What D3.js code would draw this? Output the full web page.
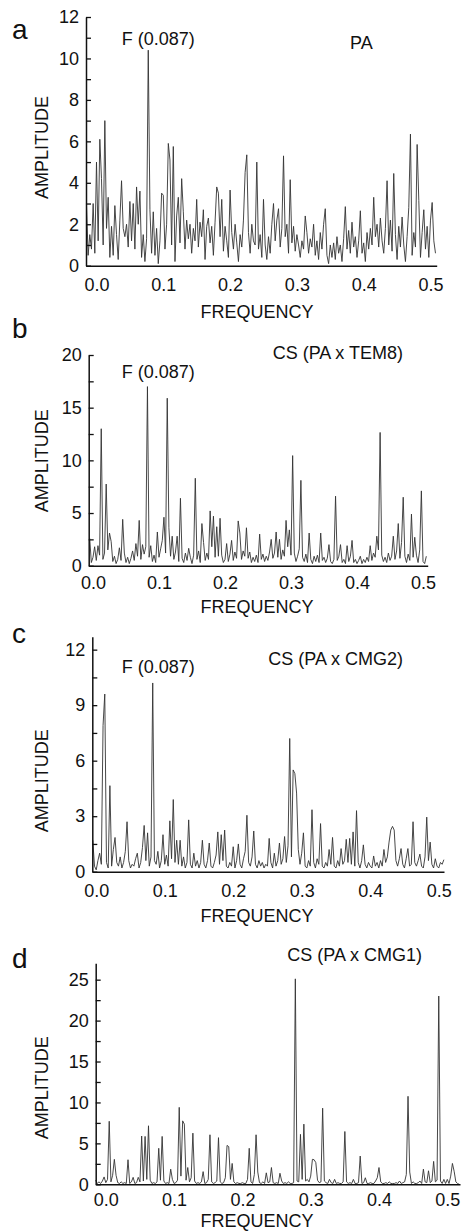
<!DOCTYPE html>
<html>
<head>
<meta charset="utf-8">
<script src="https://cdn.jsdelivr.net/npm/d3@7"></script>
<style>
body { margin: 0; background: #fff; }
svg { display: block; }
</style>
</head>
<body>
<div id="chart"></div>
<script>
'use strict';

// frequency grid of the read-off spectra
var freqStep = 0.0025;
var freqTicks = [0, 0.1, 0.2, 0.3, 0.4, 0.5];

var panelLetters = ['a', 'b', 'c', 'd'];
var seriesNames = ['PA', 'CS (PA x TEM8)', 'CS (PA x CMG2)', 'CS (PA x CMG1)'];
var peakLabel = 'F (0.087)';

var yTicksA = [0, 2, 4, 6, 8, 10, 12];
var yTicksB = [0, 5, 10, 15, 20];
var yTicksC = [0, 3, 6, 9, 12];
var yTicksD = [0, 5, 10, 15, 20, 25];

var paStart = -0.015;
var paAmp = [3.0,0.5,1.5,0.8,3.0,0.6,5.0,1.2,6.1,4.2,
1.0,7.0,1.8,3.3,0.4,1.9,0.5,2.9,1.5,0.3,
2.2,4.1,1.8,1.4,2.0,0.9,3.1,1.2,3.0,0.8,
3.8,2.0,3.6,0.4,1.5,0.2,1.3,10.4,2.7,0.6,
2.6,0.5,1.8,0.1,1.2,3.5,3.4,0.8,2.0,5.9,
5.1,1.0,5.75,0.2,2.4,3.3,1.1,4.2,2.6,0.8,
2.2,1.3,2.0,0.6,1.8,1.2,3.2,0.9,2.1,1.4,
2.7,0.3,1.9,2.3,1.1,1.9,0.5,2.1,3.8,3.5,
1.4,3.2,0.7,1.9,1.2,0.4,3.65,1.6,0.8,2.0,
1.1,0.2,1.5,0.9,2.2,4.5,5.35,1.6,0.6,2.0,
1.2,1.0,5.0,0.8,1.5,0.4,3.2,1.0,0.3,1.4,
0.6,2.0,3.0,1.2,2.2,2.75,0.9,1.8,5.3,1.4,
2.0,0.6,4.15,1.1,1.9,0.7,1.5,1.0,0.4,1.2,
0.8,2.4,1.6,0.6,1.3,0.9,2.0,0.5,1.2,0.3,
1.6,0.8,2.0,2.75,0.5,0.1,1.0,0.4,1.1,0.3,
1.4,0.6,1.0,0.2,1.3,2.85,0.8,1.7,0.6,2.1,
0.9,1.4,0.4,1.2,2.65,0.6,1.1,0.2,1.6,0.8,
1.8,1.0,3.3,1.4,2.0,0.9,2.3,1.2,0.6,1.8,
4.1,1.0,2.2,0.7,4.45,1.5,0.3,1.9,0.9,2.35,
1.0,0.2,1.4,2.8,6.35,0.5,1.6,0.9,5.85,3.15,
0.4,1.6,2.7,0.8,1.9,0.4,2.2,3.05,1.2,0.6];

var tem8Start = -0.005;
var tem8Amp = [2.6,0.3,0.8,1.8,0.5,1.9,1.0,13.0,0.6,1.2,
7.75,1.5,3.1,2.3,0.4,0.9,0.2,0.6,1.7,0.5,
4.4,1.2,0.3,0.8,0.2,0.7,1.4,0.5,2.1,0.9,
4.3,0.6,2.0,1.1,1.8,17.0,0.8,1.9,0.4,1.0,
0.3,3.2,0.8,1.6,2.4,4.6,1.2,15.9,3.6,0.9,
2.8,0.6,1.3,2.8,0.4,6.4,0.7,0.3,1.2,0.5,
1.65,0.8,0.2,1.0,8.3,0.6,1.4,0.3,4.0,2.2,
0.5,1.2,0.6,5.2,1.8,4.7,0.8,3.7,0.9,4.5,
1.0,0.3,0.6,2.1,0.4,1.1,2.4,0.5,1.3,0.7,
4.25,3.1,0.6,1.4,0.9,3.6,0.7,1.3,0.3,0.8,
0.4,1.0,0.3,3.0,0.6,1.1,0.4,0.9,0.5,1.3,
2.5,0.7,1.2,3.2,0.8,2.5,0.6,1.5,0.9,4.3,
1.8,3.4,1.0,10.45,1.2,0.4,0.9,1.6,8.1,0.8,
0.4,1.1,0.3,3.1,0.6,0.2,0.9,0.4,1.0,0.3,
3.1,0.5,0.8,0.3,0.7,2.0,0.4,0.2,0.6,6.6,
0.5,0.9,2.0,0.3,0.6,0.2,1.9,0.4,0.9,2.4,
0.3,0.6,0.2,0.5,0.9,0.2,0.6,0.3,0.8,0.4,
1.9,0.5,1.2,0.8,2.8,1.5,12.65,1.0,0.4,0.8,
0.3,1.2,0.5,0.9,2.8,0.6,1.4,4.0,0.7,2.2,
6.5,0.9,0.3,1.1,0.5,4.9,0.8,2.7,1.0,0.3,
1.5,7.1,0.4,0.2,0.9];

var cmg2Start = -0.005;
var cmg2Amp = [1.7,0.3,0.1,0.6,1.0,0.4,7.9,9.6,0.5,0.2,
4.65,0.3,1.2,1.85,0.5,0.3,0.8,0.2,0.5,1.1,
2.7,0.6,0.2,0.4,0.3,0.7,1.0,0.2,0.5,1.3,
2.5,0.6,2.1,0.3,0.8,10.2,0.6,0.4,1.1,0.2,
0.6,2.0,0.4,0.9,0.3,2.75,0.7,3.9,0.5,1.7,
0.4,1.7,0.3,0.8,0.2,0.5,2.8,0.4,0.2,1.0,
0.3,0.6,0.2,0.5,1.7,0.4,0.2,0.6,1.55,0.3,
0.2,0.5,0.9,2.15,0.4,2.0,0.6,2.25,0.3,0.2,
0.5,0.3,1.35,0.2,0.6,1.5,0.4,0.2,0.7,1.1,
3.05,0.5,0.3,0.8,2.2,0.4,0.2,0.6,0.3,0.5,
0.2,0.4,0.3,1.8,0.5,0.2,1.0,0.3,0.6,1.55,
0.4,0.7,1.9,0.5,1.4,7.2,0.8,5.5,5.3,4.25,
1.2,0.4,1.0,2.1,0.3,0.2,0.6,0.3,3.35,0.5,
0.2,0.7,0.4,2.6,0.3,0.2,0.5,0.3,1.2,0.4,
1.85,0.3,0.2,0.6,0.3,1.25,0.4,0.6,1.75,0.5,
1.8,0.4,2.15,0.3,3.3,0.5,0.2,0.6,1.45,0.4,
0.2,0.5,0.3,0.2,0.85,0.3,0.5,0.2,0.6,0.3,
1.2,0.5,0.8,1.6,2.25,2.45,2.25,0.6,0.3,0.7,
1.25,0.4,0.2,0.7,1.25,0.3,0.4,2.7,0.5,0.3,
0.6,0.95,0.3,0.2,0.8,2.95,0.6,1.6,0.4,0.2,
0.7,0.3,0.2,0.5,0.4,0.65];

var cmg1Start = -0.015;
var cmg1Amp = [0.5,0.1,0.3,0.1,0.4,0.9,0.2,0.6,7.7,0.3,
1.1,3.05,1.1,0.2,0.1,0.3,0.1,0.2,0.1,3.0,
0.1,0.3,0.85,0.1,0.2,0.85,0.3,5.9,0.4,5.85,
0.6,7.15,0.5,0.1,0.2,0.1,0.3,4.4,0.5,5.85,
0.4,0.1,0.2,0.1,1.85,0.6,0.1,0.2,0.5,9.4,
1.0,7.75,7.35,0.5,2.05,0.3,0.8,6.25,0.4,0.1,
0.2,0.1,0.3,1.55,0.1,0.2,0.6,6.05,0.3,0.1,
0.2,0.4,5.7,0.3,0.1,0.2,0.8,4.75,4.6,0.6,
2.55,0.3,0.1,0.2,0.1,0.1,0.2,0.1,0.1,0.6,
4.4,0.3,0.1,1.2,6.05,1.5,0.2,0.1,0.3,0.1,
1.4,0.2,0.3,2.05,0.2,0.1,0.2,0.1,1.35,0.4,
0.1,0.2,0.1,0.3,0.1,0.1,0.2,25.1,0.4,0.3,
6.1,0.6,7.35,0.4,0.6,0.3,1.0,3.05,3.0,2.65,
0.5,0.2,0.3,9.3,0.4,0.2,0.1,0.6,0.2,0.1,
0.6,0.1,0.2,0.1,0.1,0.3,6.45,0.3,0.1,0.2,
0.1,0.6,0.1,0.1,0.2,3.45,0.1,0.2,0.8,0.1,
0.1,0.2,0.1,0.1,0.4,0.8,2.05,0.3,0.1,0.1,
0.2,0.1,0.3,0.1,0.1,0.1,0.2,0.1,0.4,0.1,
0.2,0.3,1.2,10.75,1.5,0.1,0.3,0.1,0.1,0.2,
0.4,0.1,1.85,0.3,0.2,1.65,0.2,0.4,2.8,0.3,
0.5,23.0,0.4,0.1,0.6,0.1,0.6,0.1,1.0,2.55,
1.6,0.3,0.1,0.0];


var espectro = {};

espectro.largura = 464;
espectro.altura = 1231;
espectro.fonte = '"Liberation Sans", Arial, Helvetica, sans-serif';
espectro.tamFonte = 18;

// layout of each panel (pixels), series attached below
espectro.paineis = [
    {amp: paAmp, f0: paStart, yTicks: yTicksA, yMax: 12,
     left: 86, right: 436.7, base: 265.7, top: 17, fMin: -0.0157, fMax: 0.5093, pad: 12.5,
     letraY: 39, ampY: 147.5, freqY: 318.3, picoY: 45, nomeX: 350, nomeY: 49.3},
    {amp: tem8Amp, f0: tem8Start, yTicks: yTicksB, yMax: 20,
     left: 88.7, right: 427.7, base: 565.7, top: 355, fMin: -0.0065, fMax: 0.5071, pad: 11,
     letraY: 338.3, ampY: 460.8, freqY: 613, picoY: 378.3, nomeX: 272.7, nomeY: 359.3},
    {amp: cmg2Amp, f0: cmg2Start, yTicks: yTicksC, yMax: 12.7,
     left: 92.3, right: 444, base: 871.7, top: 636.7, fMin: -0.0057, fMax: 0.5077, pad: 12.3,
     letraY: 642.7, ampY: 780.8, freqY: 921.7, picoY: 672.7, nomeX: 268.3, nomeY: 665},
    {amp: cmg1Amp, f0: cmg1Start, yTicks: yTicksD, yMax: 27,
     left: 95.7, right: 460, base: 1184.3, top: 963.3, fMin: -0.0148, fMax: 0.5186, pad: 9,
     letraY: 968.3, ampY: 1087.8, freqY: 1226.5, picoY: null, nomeX: 287.3, nomeY: 960.7}
];

espectro.appendSvg = function (div)
{
    var node = d3.select(div).append('svg')
        .attr('width', espectro.largura)
        .attr('height', espectro.altura)
        .style('background', '#fff');
    return node;
}

espectro.texto = function (g, x, y, txt, size)
{
    return g.append('text')
        .attr('x', x)
        .attr('y', y)
        .attr('font-family', espectro.fonte)
        .attr('font-size', size || espectro.tamFonte)
        .attr('fill', '#111')
        .text(txt);
}

espectro.desenhaPainel = function (svg, p, i)
{
    var g = svg.append('g').attr('class', 'painel');
    var xScale = d3.scaleLinear().domain([p.fMin, p.fMax]).range([p.left, p.right]);
    var yScale = d3.scaleLinear().domain([0, p.yMax]).range([p.base, p.top]);

    var linha = d3.line()
        .x(function (d, k) { return xScale(p.f0 + k * freqStep); })
        .y(function (d) { return yScale(d); });

    g.append('path')
        .datum(p.amp)
        .attr('d', linha)
        .attr('fill', 'none')
        .attr('stroke', '#333')
        .attr('stroke-width', 0.9)
        .attr('stroke-linejoin', 'round');

    // minor ticks half way between the labelled ones
    var menores = d3.pairs(p.yTicks).map(function (t) { return (t[0] + t[1]) / 2; });

    var xAxis = d3.axisBottom(xScale)
        .tickValues(freqTicks)
        .tickFormat(d3.format('.1f'))
        .tickSize(0)
        .tickPadding(p.pad);
    var yAxis = d3.axisLeft(yScale)
        .tickValues(p.yTicks.concat(menores))
        .tickFormat(function (d) { return p.yTicks.indexOf(d) >= 0 ? d : ''; })
        .tickSizeInner(-5)
        .tickSizeOuter(0)
        .tickPadding(7);

    var xg = g.append('g')
        .attr('transform', 'translate(0,' + p.base + ')')
        .call(xAxis);
    var yg = g.append('g')
        .attr('transform', 'translate(' + p.left + ',0)')
        .call(yAxis);

    [xg, yg].forEach(function (ax) {
        ax.attr('font-family', espectro.fonte).attr('font-size', espectro.tamFonte);
        ax.select('.domain').attr('stroke', '#111').attr('stroke-width', 1.5);
        ax.selectAll('.tick line').attr('stroke', '#111').attr('stroke-width', 1.3);
        ax.selectAll('.tick text').attr('fill', '#111');
    });

    espectro.texto(g, 12, p.letraY, panelLetters[i], 28);
    espectro.texto(g, 257, p.freqY, 'FREQUENCY').attr('text-anchor', 'middle');
    espectro.texto(g, 0, 0, 'AMPLITUDE')
        .attr('text-anchor', 'middle')
        .attr('transform', 'translate(48.3,' + p.ampY + ') rotate(-90)');
    espectro.texto(g, p.nomeX, p.nomeY, seriesNames[i]);
    if (p.picoY != null) {
        espectro.texto(g, 121.7, p.picoY, peakLabel);
    }
}

function espectros (div)
{
    d3.select('svg').remove();
    var svg = espectro.appendSvg(div);
    for (var i = 0; i < espectro.paineis.length; i++) {
        espectro.desenhaPainel(svg, espectro.paineis[i], i);
    }
}

espectros('#chart');
</script>
</body>
</html>
